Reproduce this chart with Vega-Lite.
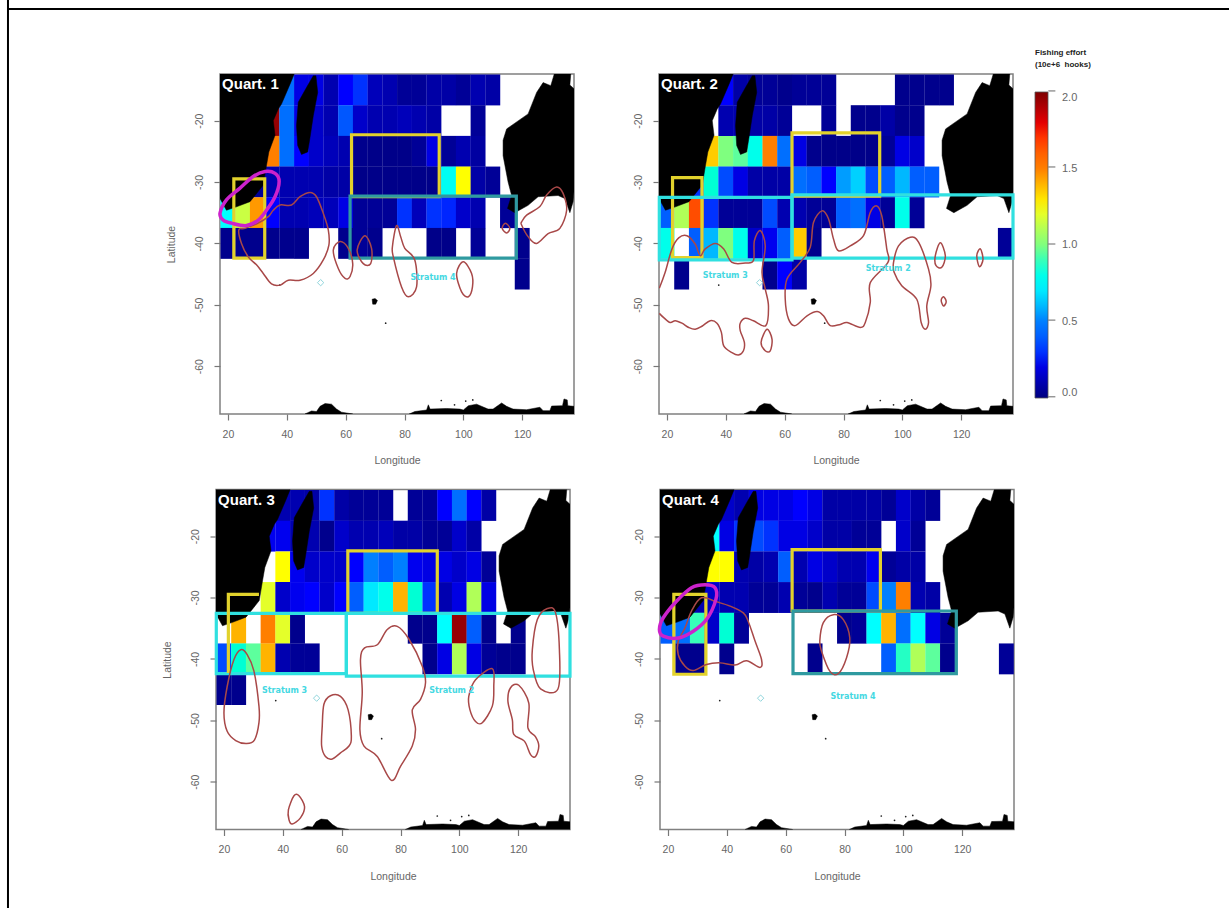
{"$schema":"https://vega.github.io/schema/vega-lite/v6.json","autosize":{"type":"none"},"padding":{"left":216,"top":74,"right":1013,"bottom":834},"background":"white","config":{"view":{"stroke":"#808080","strokeWidth":1.5},"font":"Liberation Sans"},
"datasets":{
"cells":[
{"q":"Q1","lon":40,"lat":-15,"v":0.45},{"q":"Q1","lon":45,"lat":-15,"v":0.2},{"q":"Q1","lon":50,"lat":-15,"v":0.2},{"q":"Q1","lon":55,"lat":-15,"v":0.1},{"q":"Q1","lon":60,"lat":-15,"v":0.25},{"q":"Q1","lon":65,"lat":-15,"v":0.3},{"q":"Q1","lon":70,"lat":-15,"v":0.12},{"q":"Q1","lon":75,"lat":-15,"v":0.1},{"q":"Q1","lon":80,"lat":-15,"v":0.05},{"q":"Q1","lon":85,"lat":-15,"v":0.05},{"q":"Q1","lon":90,"lat":-15,"v":0.08},{"q":"Q1","lon":95,"lat":-15,"v":0.08},{"q":"Q1","lon":100,"lat":-15,"v":0.05},{"q":"Q1","lon":105,"lat":-15,"v":0.1},{"q":"Q1","lon":110,"lat":-15,"v":0.08},
{"q":"Q1","lon":35,"lat":-20,"v":1.95},{"q":"Q1","lon":40,"lat":-20,"v":0.45},{"q":"Q1","lon":45,"lat":-20,"v":0.2},{"q":"Q1","lon":50,"lat":-20,"v":0.15},{"q":"Q1","lon":55,"lat":-20,"v":0.1},{"q":"Q1","lon":60,"lat":-20,"v":0.38},{"q":"Q1","lon":65,"lat":-20,"v":0.15},{"q":"Q1","lon":70,"lat":-20,"v":0.1},{"q":"Q1","lon":75,"lat":-20,"v":0.1},{"q":"Q1","lon":80,"lat":-20,"v":0.12},{"q":"Q1","lon":85,"lat":-20,"v":0.1},{"q":"Q1","lon":90,"lat":-20,"v":0.08},{"q":"Q1","lon":105,"lat":-20,"v":0.05},
{"q":"Q1","lon":35,"lat":-25,"v":1.5},{"q":"Q1","lon":40,"lat":-25,"v":0.45},{"q":"Q1","lon":45,"lat":-25,"v":0.25},{"q":"Q1","lon":50,"lat":-25,"v":0.15},{"q":"Q1","lon":55,"lat":-25,"v":0.12},{"q":"Q1","lon":60,"lat":-25,"v":0.1},{"q":"Q1","lon":65,"lat":-25,"v":0.03},{"q":"Q1","lon":70,"lat":-25,"v":0.02},{"q":"Q1","lon":75,"lat":-25,"v":0.02},{"q":"Q1","lon":80,"lat":-25,"v":0.02},{"q":"Q1","lon":85,"lat":-25,"v":0.05},{"q":"Q1","lon":90,"lat":-25,"v":0.2},{"q":"Q1","lon":95,"lat":-25,"v":0.05},{"q":"Q1","lon":100,"lat":-25,"v":0.1},{"q":"Q1","lon":105,"lat":-25,"v":0.07},
{"q":"Q1","lon":30,"lat":-30,"v":0.05},{"q":"Q1","lon":35,"lat":-30,"v":0.1},{"q":"Q1","lon":40,"lat":-30,"v":0.1},{"q":"Q1","lon":45,"lat":-30,"v":0.1},{"q":"Q1","lon":50,"lat":-30,"v":0.1},{"q":"Q1","lon":55,"lat":-30,"v":0.08},{"q":"Q1","lon":60,"lat":-30,"v":0.08},{"q":"Q1","lon":65,"lat":-30,"v":0.02},{"q":"Q1","lon":70,"lat":-30,"v":0.02},{"q":"Q1","lon":75,"lat":-30,"v":0.02},{"q":"Q1","lon":80,"lat":-30,"v":0.02},{"q":"Q1","lon":85,"lat":-30,"v":0.02},{"q":"Q1","lon":90,"lat":-30,"v":0.02},{"q":"Q1","lon":95,"lat":-30,"v":0.78},{"q":"Q1","lon":100,"lat":-30,"v":1.25},{"q":"Q1","lon":105,"lat":-30,"v":0.08},{"q":"Q1","lon":110,"lat":-30,"v":0.05},
{"q":"Q1","lon":20,"lat":-35,"v":0.75},{"q":"Q1","lon":25,"lat":-35,"v":1.15},{"q":"Q1","lon":30,"lat":-35,"v":1.45},{"q":"Q1","lon":35,"lat":-35,"v":0.25},{"q":"Q1","lon":40,"lat":-35,"v":0.1},{"q":"Q1","lon":45,"lat":-35,"v":0.1},{"q":"Q1","lon":50,"lat":-35,"v":0.12},{"q":"Q1","lon":55,"lat":-35,"v":0.12},{"q":"Q1","lon":60,"lat":-35,"v":0.2},{"q":"Q1","lon":65,"lat":-35,"v":0.05},{"q":"Q1","lon":70,"lat":-35,"v":0.05},{"q":"Q1","lon":75,"lat":-35,"v":0.05},{"q":"Q1","lon":80,"lat":-35,"v":0.3},{"q":"Q1","lon":85,"lat":-35,"v":0.12},{"q":"Q1","lon":90,"lat":-35,"v":0.3},{"q":"Q1","lon":95,"lat":-35,"v":0.28},{"q":"Q1","lon":100,"lat":-35,"v":0.15},{"q":"Q1","lon":105,"lat":-35,"v":0.1},{"q":"Q1","lon":115,"lat":-35,"v":0.05},
{"q":"Q1","lon":20,"lat":-40,"v":0.03},{"q":"Q1","lon":25,"lat":-40,"v":0.03},{"q":"Q1","lon":30,"lat":-40,"v":0.03},{"q":"Q1","lon":35,"lat":-40,"v":0.03},{"q":"Q1","lon":40,"lat":-40,"v":0.03},{"q":"Q1","lon":45,"lat":-40,"v":0.03},{"q":"Q1","lon":60,"lat":-40,"v":0.03},{"q":"Q1","lon":65,"lat":-40,"v":0.05},{"q":"Q1","lon":70,"lat":-40,"v":0.03},{"q":"Q1","lon":90,"lat":-40,"v":0.02},{"q":"Q1","lon":95,"lat":-40,"v":0.02},{"q":"Q1","lon":105,"lat":-40,"v":0.05},{"q":"Q1","lon":120,"lat":-40,"v":0.03},{"q":"Q1","lon":120,"lat":-45,"v":0.03},
{"q":"Q2","lon":40,"lat":-15,"v":0.25},{"q":"Q2","lon":45,"lat":-15,"v":0.08},{"q":"Q2","lon":50,"lat":-15,"v":0.05},{"q":"Q2","lon":55,"lat":-15,"v":0.05},{"q":"Q2","lon":60,"lat":-15,"v":0.03},{"q":"Q2","lon":65,"lat":-15,"v":0.05},{"q":"Q2","lon":70,"lat":-15,"v":0.05},{"q":"Q2","lon":75,"lat":-15,"v":0.05},{"q":"Q2","lon":100,"lat":-15,"v":0.03},{"q":"Q2","lon":105,"lat":-15,"v":0.03},{"q":"Q2","lon":110,"lat":-15,"v":0.03},{"q":"Q2","lon":115,"lat":-15,"v":0.03},
{"q":"Q2","lon":40,"lat":-20,"v":0.1},{"q":"Q2","lon":45,"lat":-20,"v":0.1},{"q":"Q2","lon":50,"lat":-20,"v":0.08},{"q":"Q2","lon":55,"lat":-20,"v":0.08},{"q":"Q2","lon":60,"lat":-20,"v":0.05},{"q":"Q2","lon":75,"lat":-20,"v":0.05},{"q":"Q2","lon":85,"lat":-20,"v":0.03},{"q":"Q2","lon":90,"lat":-20,"v":0.03},{"q":"Q2","lon":95,"lat":-20,"v":0.08},{"q":"Q2","lon":100,"lat":-20,"v":0.03},{"q":"Q2","lon":105,"lat":-20,"v":0.03},
{"q":"Q2","lon":35,"lat":-25,"v":1.35},{"q":"Q2","lon":40,"lat":-25,"v":1.0},{"q":"Q2","lon":45,"lat":-25,"v":0.95},{"q":"Q2","lon":50,"lat":-25,"v":0.8},{"q":"Q2","lon":55,"lat":-25,"v":1.5},{"q":"Q2","lon":60,"lat":-25,"v":0.45},{"q":"Q2","lon":65,"lat":-25,"v":0.2},{"q":"Q2","lon":70,"lat":-25,"v":0.03},{"q":"Q2","lon":75,"lat":-25,"v":0.02},{"q":"Q2","lon":80,"lat":-25,"v":0.02},{"q":"Q2","lon":85,"lat":-25,"v":0.02},{"q":"Q2","lon":90,"lat":-25,"v":0.02},{"q":"Q2","lon":95,"lat":-25,"v":0.05},{"q":"Q2","lon":100,"lat":-25,"v":0.2},{"q":"Q2","lon":105,"lat":-25,"v":0.15},
{"q":"Q2","lon":30,"lat":-30,"v":0.3},{"q":"Q2","lon":35,"lat":-30,"v":0.85},{"q":"Q2","lon":40,"lat":-30,"v":0.35},{"q":"Q2","lon":45,"lat":-30,"v":0.2},{"q":"Q2","lon":50,"lat":-30,"v":0.08},{"q":"Q2","lon":55,"lat":-30,"v":0.08},{"q":"Q2","lon":60,"lat":-30,"v":0.08},{"q":"Q2","lon":65,"lat":-30,"v":0.45},{"q":"Q2","lon":70,"lat":-30,"v":0.4},{"q":"Q2","lon":75,"lat":-30,"v":0.25},{"q":"Q2","lon":80,"lat":-30,"v":0.55},{"q":"Q2","lon":85,"lat":-30,"v":0.65},{"q":"Q2","lon":90,"lat":-30,"v":0.35},{"q":"Q2","lon":95,"lat":-30,"v":0.4},{"q":"Q2","lon":100,"lat":-30,"v":0.6},{"q":"Q2","lon":105,"lat":-30,"v":0.4},{"q":"Q2","lon":110,"lat":-30,"v":0.4},
{"q":"Q2","lon":20,"lat":-35,"v":0.4},{"q":"Q2","lon":25,"lat":-35,"v":1.1},{"q":"Q2","lon":30,"lat":-35,"v":1.65},{"q":"Q2","lon":35,"lat":-35,"v":0.3},{"q":"Q2","lon":40,"lat":-35,"v":0.05},{"q":"Q2","lon":45,"lat":-35,"v":0.05},{"q":"Q2","lon":50,"lat":-35,"v":0.05},{"q":"Q2","lon":55,"lat":-35,"v":0.35},{"q":"Q2","lon":60,"lat":-35,"v":0.1},{"q":"Q2","lon":65,"lat":-35,"v":0.1},{"q":"Q2","lon":70,"lat":-35,"v":0.05},{"q":"Q2","lon":75,"lat":-35,"v":0.05},{"q":"Q2","lon":80,"lat":-35,"v":0.4},{"q":"Q2","lon":85,"lat":-35,"v":0.45},{"q":"Q2","lon":90,"lat":-35,"v":0.2},{"q":"Q2","lon":95,"lat":-35,"v":0.05},{"q":"Q2","lon":100,"lat":-35,"v":0.8},{"q":"Q2","lon":105,"lat":-35,"v":0.05},
{"q":"Q2","lon":20,"lat":-40,"v":0.8},{"q":"Q2","lon":30,"lat":-40,"v":0.4},{"q":"Q2","lon":35,"lat":-40,"v":0.6},{"q":"Q2","lon":40,"lat":-40,"v":1.0},{"q":"Q2","lon":45,"lat":-40,"v":0.8},{"q":"Q2","lon":50,"lat":-40,"v":0.15},{"q":"Q2","lon":55,"lat":-40,"v":0.22},{"q":"Q2","lon":60,"lat":-40,"v":0.4},{"q":"Q2","lon":65,"lat":-40,"v":1.35},{"q":"Q2","lon":70,"lat":-40,"v":0.03},{"q":"Q2","lon":135,"lat":-40,"v":0.05},
{"q":"Q2","lon":25,"lat":-45,"v":0.03},{"q":"Q2","lon":55,"lat":-45,"v":0.03},{"q":"Q2","lon":60,"lat":-45,"v":0.25},{"q":"Q2","lon":65,"lat":-45,"v":0.08},
{"q":"Q3","lon":40,"lat":-15,"v":0.1},{"q":"Q3","lon":45,"lat":-15,"v":0.1},{"q":"Q3","lon":50,"lat":-15,"v":0.08},{"q":"Q3","lon":55,"lat":-15,"v":0.3},{"q":"Q3","lon":60,"lat":-15,"v":0.08},{"q":"Q3","lon":65,"lat":-15,"v":0.05},{"q":"Q3","lon":70,"lat":-15,"v":0.05},{"q":"Q3","lon":75,"lat":-15,"v":0.05},{"q":"Q3","lon":85,"lat":-15,"v":0.05},{"q":"Q3","lon":90,"lat":-15,"v":0.05},{"q":"Q3","lon":95,"lat":-15,"v":0.25},{"q":"Q3","lon":100,"lat":-15,"v":0.45},{"q":"Q3","lon":105,"lat":-15,"v":0.25},{"q":"Q3","lon":110,"lat":-15,"v":0.08},
{"q":"Q3","lon":35,"lat":-20,"v":0.22},{"q":"Q3","lon":40,"lat":-20,"v":0.22},{"q":"Q3","lon":45,"lat":-20,"v":0.1},{"q":"Q3","lon":50,"lat":-20,"v":0.1},{"q":"Q3","lon":55,"lat":-20,"v":0.03},{"q":"Q3","lon":60,"lat":-20,"v":0.15},{"q":"Q3","lon":65,"lat":-20,"v":0.1},{"q":"Q3","lon":70,"lat":-20,"v":0.1},{"q":"Q3","lon":75,"lat":-20,"v":0.12},{"q":"Q3","lon":80,"lat":-20,"v":0.08},{"q":"Q3","lon":85,"lat":-20,"v":0.08},{"q":"Q3","lon":90,"lat":-20,"v":0.05},{"q":"Q3","lon":95,"lat":-20,"v":0.05},{"q":"Q3","lon":100,"lat":-20,"v":0.15},{"q":"Q3","lon":105,"lat":-20,"v":0.08},
{"q":"Q3","lon":40,"lat":-25,"v":1.25},{"q":"Q3","lon":45,"lat":-25,"v":0.22},{"q":"Q3","lon":50,"lat":-25,"v":0.15},{"q":"Q3","lon":55,"lat":-25,"v":0.15},{"q":"Q3","lon":60,"lat":-25,"v":0.15},{"q":"Q3","lon":65,"lat":-25,"v":0.25},{"q":"Q3","lon":70,"lat":-25,"v":0.5},{"q":"Q3","lon":75,"lat":-25,"v":0.4},{"q":"Q3","lon":80,"lat":-25,"v":0.5},{"q":"Q3","lon":85,"lat":-25,"v":0.22},{"q":"Q3","lon":90,"lat":-25,"v":0.2},{"q":"Q3","lon":95,"lat":-25,"v":0.2},{"q":"Q3","lon":100,"lat":-25,"v":0.15},{"q":"Q3","lon":105,"lat":-25,"v":0.2},{"q":"Q3","lon":110,"lat":-25,"v":0.05},
{"q":"Q3","lon":35,"lat":-30,"v":1.2},{"q":"Q3","lon":40,"lat":-30,"v":0.15},{"q":"Q3","lon":45,"lat":-30,"v":0.22},{"q":"Q3","lon":50,"lat":-30,"v":0.25},{"q":"Q3","lon":55,"lat":-30,"v":0.15},{"q":"Q3","lon":60,"lat":-30,"v":0.25},{"q":"Q3","lon":65,"lat":-30,"v":0.4},{"q":"Q3","lon":70,"lat":-30,"v":0.7},{"q":"Q3","lon":75,"lat":-30,"v":0.8},{"q":"Q3","lon":80,"lat":-30,"v":1.4},{"q":"Q3","lon":85,"lat":-30,"v":0.85},{"q":"Q3","lon":90,"lat":-30,"v":0.3},{"q":"Q3","lon":95,"lat":-30,"v":0.1},{"q":"Q3","lon":100,"lat":-30,"v":0.2},{"q":"Q3","lon":105,"lat":-30,"v":1.1},{"q":"Q3","lon":110,"lat":-30,"v":0.2},
{"q":"Q3","lon":25,"lat":-35,"v":1.4},{"q":"Q3","lon":35,"lat":-35,"v":1.5},{"q":"Q3","lon":40,"lat":-35,"v":1.2},{"q":"Q3","lon":45,"lat":-35,"v":0.03},{"q":"Q3","lon":85,"lat":-35,"v":0.03},{"q":"Q3","lon":90,"lat":-35,"v":0.03},{"q":"Q3","lon":95,"lat":-35,"v":0.75},{"q":"Q3","lon":100,"lat":-35,"v":1.95},{"q":"Q3","lon":105,"lat":-35,"v":0.4},{"q":"Q3","lon":110,"lat":-35,"v":0.03},{"q":"Q3","lon":120,"lat":-35,"v":0.03},
{"q":"Q3","lon":20,"lat":-40,"v":0.35},{"q":"Q3","lon":25,"lat":-40,"v":0.85},{"q":"Q3","lon":30,"lat":-40,"v":0.95},{"q":"Q3","lon":35,"lat":-40,"v":1.4},{"q":"Q3","lon":40,"lat":-40,"v":0.1},{"q":"Q3","lon":45,"lat":-40,"v":0.05},{"q":"Q3","lon":50,"lat":-40,"v":0.05},{"q":"Q3","lon":90,"lat":-40,"v":0.03},{"q":"Q3","lon":95,"lat":-40,"v":0.2},{"q":"Q3","lon":100,"lat":-40,"v":1.1},{"q":"Q3","lon":105,"lat":-40,"v":0.2},{"q":"Q3","lon":110,"lat":-40,"v":0.05},{"q":"Q3","lon":115,"lat":-40,"v":0.03},{"q":"Q3","lon":120,"lat":-40,"v":0.03},
{"q":"Q3","lon":20,"lat":-45,"v":0.03},{"q":"Q3","lon":25,"lat":-45,"v":0.03},
{"q":"Q4","lon":40,"lat":-15,"v":0.15},{"q":"Q4","lon":45,"lat":-15,"v":0.1},{"q":"Q4","lon":50,"lat":-15,"v":0.2},{"q":"Q4","lon":55,"lat":-15,"v":0.2},{"q":"Q4","lon":60,"lat":-15,"v":0.2},{"q":"Q4","lon":65,"lat":-15,"v":0.25},{"q":"Q4","lon":70,"lat":-15,"v":0.2},{"q":"Q4","lon":75,"lat":-15,"v":0.08},{"q":"Q4","lon":80,"lat":-15,"v":0.08},{"q":"Q4","lon":85,"lat":-15,"v":0.08},{"q":"Q4","lon":90,"lat":-15,"v":0.08},{"q":"Q4","lon":95,"lat":-15,"v":0.05},{"q":"Q4","lon":100,"lat":-15,"v":0.15},{"q":"Q4","lon":105,"lat":-15,"v":0.08},{"q":"Q4","lon":110,"lat":-15,"v":0.05},
{"q":"Q4","lon":35,"lat":-20,"v":0.75},{"q":"Q4","lon":40,"lat":-20,"v":0.2},{"q":"Q4","lon":45,"lat":-20,"v":0.3},{"q":"Q4","lon":50,"lat":-20,"v":0.35},{"q":"Q4","lon":55,"lat":-20,"v":0.3},{"q":"Q4","lon":60,"lat":-20,"v":0.2},{"q":"Q4","lon":65,"lat":-20,"v":0.2},{"q":"Q4","lon":70,"lat":-20,"v":0.15},{"q":"Q4","lon":75,"lat":-20,"v":0.08},{"q":"Q4","lon":80,"lat":-20,"v":0.08},{"q":"Q4","lon":85,"lat":-20,"v":0.05},{"q":"Q4","lon":90,"lat":-20,"v":0.05},{"q":"Q4","lon":100,"lat":-20,"v":0.15},{"q":"Q4","lon":105,"lat":-20,"v":0.05},
{"q":"Q4","lon":35,"lat":-25,"v":1.25},{"q":"Q4","lon":40,"lat":-25,"v":1.25},{"q":"Q4","lon":45,"lat":-25,"v":0.1},{"q":"Q4","lon":50,"lat":-25,"v":0.08},{"q":"Q4","lon":55,"lat":-25,"v":0.1},{"q":"Q4","lon":60,"lat":-25,"v":0.4},{"q":"Q4","lon":65,"lat":-25,"v":0.1},{"q":"Q4","lon":70,"lat":-25,"v":0.2},{"q":"Q4","lon":75,"lat":-25,"v":0.15},{"q":"Q4","lon":80,"lat":-25,"v":0.1},{"q":"Q4","lon":85,"lat":-25,"v":0.1},{"q":"Q4","lon":90,"lat":-25,"v":0.22},{"q":"Q4","lon":95,"lat":-25,"v":0.05},{"q":"Q4","lon":100,"lat":-25,"v":0.08},{"q":"Q4","lon":105,"lat":-25,"v":0.08},
{"q":"Q4","lon":30,"lat":-30,"v":0.1},{"q":"Q4","lon":35,"lat":-30,"v":0.15},{"q":"Q4","lon":40,"lat":-30,"v":0.1},{"q":"Q4","lon":45,"lat":-30,"v":0.1},{"q":"Q4","lon":50,"lat":-30,"v":0.05},{"q":"Q4","lon":55,"lat":-30,"v":0.05},{"q":"Q4","lon":60,"lat":-30,"v":0.1},{"q":"Q4","lon":65,"lat":-30,"v":0.05},{"q":"Q4","lon":70,"lat":-30,"v":0.03},{"q":"Q4","lon":75,"lat":-30,"v":0.1},{"q":"Q4","lon":80,"lat":-30,"v":0.05},{"q":"Q4","lon":85,"lat":-30,"v":0.05},{"q":"Q4","lon":90,"lat":-30,"v":0.35},{"q":"Q4","lon":95,"lat":-30,"v":0.5},{"q":"Q4","lon":100,"lat":-30,"v":1.5},{"q":"Q4","lon":105,"lat":-30,"v":0.1},{"q":"Q4","lon":110,"lat":-30,"v":0.08},
{"q":"Q4","lon":20,"lat":-35,"v":0.4},{"q":"Q4","lon":25,"lat":-35,"v":0.45},{"q":"Q4","lon":30,"lat":-35,"v":0.9},{"q":"Q4","lon":35,"lat":-35,"v":0.15},{"q":"Q4","lon":40,"lat":-35,"v":0.85},{"q":"Q4","lon":45,"lat":-35,"v":0.05},{"q":"Q4","lon":80,"lat":-35,"v":0.03},{"q":"Q4","lon":85,"lat":-35,"v":0.05},{"q":"Q4","lon":90,"lat":-35,"v":0.75},{"q":"Q4","lon":95,"lat":-35,"v":1.4},{"q":"Q4","lon":100,"lat":-35,"v":0.45},{"q":"Q4","lon":105,"lat":-35,"v":0.75},{"q":"Q4","lon":110,"lat":-35,"v":0.2},{"q":"Q4","lon":115,"lat":-35,"v":0.05},
{"q":"Q4","lon":25,"lat":-40,"v":0.03},{"q":"Q4","lon":30,"lat":-40,"v":0.03},{"q":"Q4","lon":40,"lat":-40,"v":0.03},{"q":"Q4","lon":70,"lat":-40,"v":0.03},{"q":"Q4","lon":95,"lat":-40,"v":0.4},{"q":"Q4","lon":100,"lat":-40,"v":0.88},{"q":"Q4","lon":105,"lat":-40,"v":1.1},{"q":"Q4","lon":110,"lat":-40,"v":0.95},{"q":"Q4","lon":115,"lat":-40,"v":0.03},{"q":"Q4","lon":135,"lat":-40,"v":0.05}
],
"land":[
{"id":"af","lon":42.5,"lat":-12.4},{"id":"af","lon":41.1,"lat":-14.05},{"id":"af","lon":38.2,"lat":-17.3},{"id":"af","lon":37.1,"lat":-18.1},{"id":"af","lon":35.4,"lat":-20},{"id":"af","lon":36,"lat":-22.4},{"id":"af","lon":33.9,"lat":-25.1},{"id":"af","lon":33.1,"lat":-27.3},{"id":"af","lon":32,"lat":-30.5},{"id":"af","lon":27.5,"lat":-33.2},{"id":"af","lon":22.9,"lat":-34.05},{"id":"af","lon":19.5,"lat":-34.6},{"id":"af","lon":17.3,"lat":-32.7},{"id":"af","lon":17.3,"lat":-12.4},
{"id":"ma","lon":49.9,"lat":-12.7},{"id":"ma","lon":50.5,"lat":-15.4},{"id":"ma","lon":49,"lat":-19.2},{"id":"ma","lon":47.9,"lat":-22.7},{"id":"ma","lon":47.1,"lat":-25.1},{"id":"ma","lon":45,"lat":-25.5},{"id":"ma","lon":43.7,"lat":-24.05},{"id":"ma","lon":43.3,"lat":-20.8},{"id":"ma","lon":43.9,"lat":-17},{"id":"ma","lon":46.7,"lat":-14.6},{"id":"ma","lon":49,"lat":-12.7},
{"id":"au","lon":130.9,"lat":-12.4},{"id":"au","lon":129.7,"lat":-14.3},{"id":"au","lon":127.1,"lat":-13.8},{"id":"au","lon":124.9,"lat":-15.4},{"id":"au","lon":122,"lat":-18.9},{"id":"au","lon":114.7,"lat":-21.35},{"id":"au","lon":113.5,"lat":-23.2},{"id":"au","lon":113.5,"lat":-25.7},{"id":"au","lon":115.2,"lat":-30},{"id":"au","lon":116.4,"lat":-32.2},{"id":"au","lon":115,"lat":-34.3},{"id":"au","lon":117.5,"lat":-35},{"id":"au","lon":122,"lat":-33.8},{"id":"au","lon":125.4,"lat":-32.4},{"id":"au","lon":132.2,"lat":-32.2},{"id":"au","lon":134.5,"lat":-32.7},{"id":"au","lon":136.2,"lat":-35},{"id":"au","lon":137.3,"lat":-33.2},{"id":"au","lon":137.6,"lat":-31.6},{"id":"au","lon":137.6,"lat":-14.8},{"id":"au","lon":136.2,"lat":-14.2},{"id":"au","lon":136.5,"lat":-12.4},
{"id":"an1","lon":46.2,"lat":-67.8},{"id":"an1","lon":48.4,"lat":-67.3},{"id":"an1","lon":50.1,"lat":-67.4},{"id":"an1","lon":51.3,"lat":-66.55},{"id":"an1","lon":53,"lat":-66.1},{"id":"an1","lon":55.2,"lat":-66.2},{"id":"an1","lon":56.9,"lat":-67},{"id":"an1","lon":58.6,"lat":-67.5},{"id":"an1","lon":62.4,"lat":-67.8},
{"id":"an2","lon":81.6,"lat":-67.8},{"id":"an2","lon":83.5,"lat":-67.4},{"id":"an2","lon":87.5,"lat":-67.15},{"id":"an2","lon":88.1,"lat":-66.3},{"id":"an2","lon":88.7,"lat":-67},{"id":"an2","lon":94.3,"lat":-66.9},{"id":"an2","lon":98.8,"lat":-67},{"id":"an2","lon":100,"lat":-67.15},{"id":"an2","lon":101.7,"lat":-66.45},{"id":"an2","lon":104.5,"lat":-66.2},{"id":"an2","lon":108.4,"lat":-67},{"id":"an2","lon":110.1,"lat":-67},{"id":"an2","lon":113,"lat":-66},{"id":"an2","lon":114.7,"lat":-66.55},{"id":"an2","lon":116.9,"lat":-67},{"id":"an2","lon":121.5,"lat":-67.1},{"id":"an2","lon":126,"lat":-66.7},{"id":"an2","lon":127.1,"lat":-67.25},{"id":"an2","lon":129.4,"lat":-67.25},{"id":"an2","lon":130,"lat":-66.5},{"id":"an2","lon":133.7,"lat":-66.45},{"id":"an2","lon":134.2,"lat":-65.35},{"id":"an2","lon":135.3,"lat":-65.5},{"id":"an2","lon":135.5,"lat":-66.45},{"id":"an2","lon":137.6,"lat":-66.55},{"id":"an2","lon":137.6,"lat":-67.8},
{"id":"ke","lon":69,"lat":-49.1},{"id":"ke","lon":70,"lat":-49},{"id":"ke","lon":70.8,"lat":-49.3},{"id":"ke","lon":70.2,"lat":-49.9},{"id":"ke","lon":69.2,"lat":-49.9}
],
"dots":[{"lon":73.6,"lat":-53},{"lon":37.6,"lat":-46.8},{"lon":92.5,"lat":-65.6},{"lon":97,"lat":-66.3},{"lon":100.8,"lat":-65.7},{"lon":103.2,"lat":-65.5}],
"crozet":[{"lon":51.5,"lat":-46.4}],
"contours":[
{"q":"Q1","id":"1","lon":23.7,"lat":-37.8},{"q":"Q1","id":"1","lon":24.6,"lat":-40},{"q":"Q1","id":"1","lon":26.9,"lat":-42.2},{"q":"Q1","id":"1","lon":29.7,"lat":-43.5},{"q":"Q1","id":"1","lon":32,"lat":-44.9},{"q":"Q1","id":"1","lon":34.8,"lat":-46.6},{"q":"Q1","id":"1","lon":37.7,"lat":-46.8},{"q":"Q1","id":"1","lon":40.5,"lat":-46},{"q":"Q1","id":"1","lon":44.5,"lat":-46},{"q":"Q1","id":"1","lon":49,"lat":-44.9},{"q":"Q1","id":"1","lon":52.4,"lat":-42.7},{"q":"Q1","id":"1","lon":54.3,"lat":-40.3},{"q":"Q1","id":"1","lon":54.1,"lat":-37.8},{"q":"Q1","id":"1","lon":52.4,"lat":-35.1},{"q":"Q1","id":"1","lon":50.1,"lat":-32.4},{"q":"Q1","id":"1","lon":47.9,"lat":-31.7},{"q":"Q1","id":"1","lon":44.5,"lat":-32.4},{"q":"Q1","id":"1","lon":41.6,"lat":-33.75},{"q":"Q1","id":"1","lon":37.7,"lat":-33.75},{"q":"Q1","id":"1","lon":35.4,"lat":-34.6},{"q":"Q1","id":"1","lon":33.7,"lat":-35.65},{"q":"Q1","id":"1","lon":30.3,"lat":-36.7},{"q":"Q1","id":"1","lon":25.8,"lat":-37.55},
{"q":"Q1","id":"2","lon":55.8,"lat":-41.1},{"q":"Q1","id":"2","lon":58.1,"lat":-39.7},{"q":"Q1","id":"2","lon":60.9,"lat":-40.8},{"q":"Q1","id":"2","lon":62.4,"lat":-43.3},{"q":"Q1","id":"2","lon":61.5,"lat":-45.4},{"q":"Q1","id":"2","lon":59.8,"lat":-45.7},{"q":"Q1","id":"2","lon":57.5,"lat":-44.1},
{"q":"Q1","id":"3","lon":63.9,"lat":-41.1},{"q":"Q1","id":"3","lon":66.5,"lat":-38.75},{"q":"Q1","id":"3","lon":68.8,"lat":-40.8},{"q":"Q1","id":"3","lon":68.5,"lat":-43.3},{"q":"Q1","id":"3","lon":66,"lat":-43.3},
{"q":"Q1","id":"4","lon":77.3,"lat":-37.1},{"q":"Q1","id":"4","lon":75.9,"lat":-40.5},{"q":"Q1","id":"4","lon":76.2,"lat":-42.2},{"q":"Q1","id":"4","lon":79,"lat":-47.1},{"q":"Q1","id":"4","lon":81.3,"lat":-48.7},{"q":"Q1","id":"4","lon":84.1,"lat":-47.1},{"q":"Q1","id":"4","lon":83.5,"lat":-42.7},{"q":"Q1","id":"4","lon":80.1,"lat":-40.8},{"q":"Q1","id":"4","lon":78.7,"lat":-38.9},
{"q":"Q1","id":"5","lon":97.7,"lat":-44.9},{"q":"Q1","id":"5","lon":100,"lat":-43},{"q":"Q1","id":"5","lon":102.8,"lat":-44.9},{"q":"Q1","id":"5","lon":103.1,"lat":-47.1},{"q":"Q1","id":"5","lon":101.7,"lat":-48.7},{"q":"Q1","id":"5","lon":99.4,"lat":-47.9},
{"q":"Q1","id":"6","lon":113.2,"lat":-37.55},{"q":"Q1","id":"6","lon":114.3,"lat":-36.7},{"q":"Q1","id":"6","lon":115.8,"lat":-37.55},{"q":"Q1","id":"6","lon":114.7,"lat":-38.3},
{"q":"Q1","id":"7","lon":119.8,"lat":-36.5},{"q":"Q1","id":"7","lon":121.5,"lat":-35.4},{"q":"Q1","id":"7","lon":126,"lat":-34},{"q":"Q1","id":"7","lon":128.3,"lat":-32.1},{"q":"Q1","id":"7","lon":131.7,"lat":-30.8},{"q":"Q1","id":"7","lon":133.9,"lat":-31.85},{"q":"Q1","id":"7","lon":135.1,"lat":-34.6},{"q":"Q1","id":"7","lon":132.8,"lat":-37.55},{"q":"Q1","id":"7","lon":128.8,"lat":-38.4},{"q":"Q1","id":"7","lon":124.9,"lat":-40},{"q":"Q1","id":"7","lon":122,"lat":-38.9},{"q":"Q1","id":"7","lon":119.8,"lat":-37},
{"q":"Q2","id":"1","lon":54,"lat":-54},{"q":"Q2","id":"1","lon":55.7,"lat":-55.6},{"q":"Q2","id":"1","lon":55.1,"lat":-57.5},{"q":"Q2","id":"1","lon":53.4,"lat":-57.5},{"q":"Q2","id":"1","lon":52,"lat":-56.1},
{"q":"Q2","id":"2","lon":68.7,"lat":-40.65},{"q":"Q2","id":"2","lon":69.8,"lat":-36.6},{"q":"Q2","id":"2","lon":72.7,"lat":-34.7},{"q":"Q2","id":"2","lon":74.9,"lat":-36},{"q":"Q2","id":"2","lon":76.6,"lat":-39.3},{"q":"Q2","id":"2","lon":78.3,"lat":-41.2},{"q":"Q2","id":"2","lon":82.3,"lat":-40.4},{"q":"Q2","id":"2","lon":86.8,"lat":-38.75},{"q":"Q2","id":"2","lon":89.1,"lat":-34.95},{"q":"Q2","id":"2","lon":91.3,"lat":-33.9},{"q":"Q2","id":"2","lon":93,"lat":-35.5},{"q":"Q2","id":"2","lon":94.7,"lat":-40.9},{"q":"Q2","id":"2","lon":95.1,"lat":-43.1},{"q":"Q2","id":"2","lon":89.1,"lat":-46.4},{"q":"Q2","id":"2","lon":89.1,"lat":-49.6},{"q":"Q2","id":"2","lon":87.4,"lat":-52.9},{"q":"Q2","id":"2","lon":85.7,"lat":-53.7},{"q":"Q2","id":"2","lon":81.2,"lat":-52.9},{"q":"Q2","id":"2","lon":78.9,"lat":-53.2},{"q":"Q2","id":"2","lon":75.5,"lat":-53.4},{"q":"Q2","id":"2","lon":73.2,"lat":-51.8},{"q":"Q2","id":"2","lon":71,"lat":-51.1},{"q":"Q2","id":"2","lon":67.6,"lat":-51.8},{"q":"Q2","id":"2","lon":63.6,"lat":-53.4},{"q":"Q2","id":"2","lon":61.3,"lat":-52.3},{"q":"Q2","id":"2","lon":60.2,"lat":-49.1},{"q":"Q2","id":"2","lon":60.8,"lat":-45.8},{"q":"Q2","id":"2","lon":65.3,"lat":-43.1},
{"q":"Q2","id":"3","lon":97,"lat":-43.1},{"q":"Q2","id":"3","lon":98.7,"lat":-40.4},{"q":"Q2","id":"3","lon":102.7,"lat":-39},{"q":"Q2","id":"3","lon":105.5,"lat":-39.8},{"q":"Q2","id":"3","lon":108.9,"lat":-44.2},{"q":"Q2","id":"3","lon":109.7,"lat":-46.9},{"q":"Q2","id":"3","lon":108.3,"lat":-50.2},{"q":"Q2","id":"3","lon":108.9,"lat":-52.9},{"q":"Q2","id":"3","lon":107.8,"lat":-54},{"q":"Q2","id":"3","lon":106.4,"lat":-52.9},{"q":"Q2","id":"3","lon":104.9,"lat":-49.1},{"q":"Q2","id":"3","lon":99.8,"lat":-46.9},{"q":"Q2","id":"3","lon":97.2,"lat":-44.7},
{"q":"Q2","id":"4","lon":111.2,"lat":-42},{"q":"Q2","id":"4","lon":112.9,"lat":-39.9},{"q":"Q2","id":"4","lon":114.6,"lat":-42},{"q":"Q2","id":"4","lon":113.4,"lat":-43.9},{"q":"Q2","id":"4","lon":111.4,"lat":-43.6},
{"q":"Q2","id":"5","lon":125.3,"lat":-42},{"q":"Q2","id":"5","lon":126.5,"lat":-40.9},{"q":"Q2","id":"5","lon":127.4,"lat":-42.6},{"q":"Q2","id":"5","lon":126.2,"lat":-43.8},
{"q":"Q2","id":"6","lon":113.2,"lat":-49.3},{"q":"Q2","id":"6","lon":114,"lat":-48.7},{"q":"Q2","id":"6","lon":114.9,"lat":-49.5},{"q":"Q2","id":"6","lon":114,"lat":-50.2},
{"q":"Q3","id":"1","lon":20,"lat":-48.8},{"q":"Q3","id":"1","lon":21.1,"lat":-44.5},{"q":"Q3","id":"1","lon":23.4,"lat":-40.1},{"q":"Q3","id":"1","lon":25.7,"lat":-38.5},{"q":"Q3","id":"1","lon":27.9,"lat":-39.3},{"q":"Q3","id":"1","lon":30.2,"lat":-42},{"q":"Q3","id":"1","lon":31.9,"lat":-47.7},{"q":"Q3","id":"1","lon":31.9,"lat":-50.4},{"q":"Q3","id":"1","lon":30.4,"lat":-53.2},{"q":"Q3","id":"1","lon":27.7,"lat":-53.8},{"q":"Q3","id":"1","lon":24,"lat":-53.3},{"q":"Q3","id":"1","lon":21.1,"lat":-51.8},
{"q":"Q3","id":"2","lon":41.9,"lat":-64.6},{"q":"Q3","id":"2","lon":43.8,"lat":-62.3},{"q":"Q3","id":"2","lon":45.5,"lat":-62.3},{"q":"Q3","id":"2","lon":47.4,"lat":-64.1},{"q":"Q3","id":"2","lon":46,"lat":-65.9},{"q":"Q3","id":"2","lon":43.2,"lat":-66.9},{"q":"Q3","id":"2","lon":42.1,"lat":-66.2},
{"q":"Q3","id":"3","lon":53.4,"lat":-51},{"q":"Q3","id":"3","lon":53.97,"lat":-47.4},{"q":"Q3","id":"3","lon":56.2,"lat":-46},{"q":"Q3","id":"3","lon":59.6,"lat":-46.1},{"q":"Q3","id":"3","lon":62.2,"lat":-48.3},{"q":"Q3","id":"3","lon":63.3,"lat":-52.6},{"q":"Q3","id":"3","lon":62.5,"lat":-54.2},{"q":"Q3","id":"3","lon":59.6,"lat":-55.3},{"q":"Q3","id":"3","lon":56.8,"lat":-56.3},{"q":"Q3","id":"3","lon":54.5,"lat":-55.9},{"q":"Q3","id":"3","lon":53.2,"lat":-54.2},
{"q":"Q3","id":"4","lon":66.4,"lat":-40.1},{"q":"Q3","id":"4","lon":67.8,"lat":-38.2},{"q":"Q3","id":"4","lon":72.1,"lat":-37.7},{"q":"Q3","id":"4","lon":75.5,"lat":-35.2},{"q":"Q3","id":"4","lon":78.9,"lat":-34.7},{"q":"Q3","id":"4","lon":82.9,"lat":-36.8},{"q":"Q3","id":"4","lon":87.4,"lat":-41.2},{"q":"Q3","id":"4","lon":88.5,"lat":-43.9},{"q":"Q3","id":"4","lon":86.8,"lat":-46.6},{"q":"Q3","id":"4","lon":84,"lat":-48.3},{"q":"Q3","id":"4","lon":85.1,"lat":-51.5},{"q":"Q3","id":"4","lon":84,"lat":-54.2},{"q":"Q3","id":"4","lon":80,"lat":-57.5},{"q":"Q3","id":"4","lon":76.9,"lat":-59.8},{"q":"Q3","id":"4","lon":72.1,"lat":-55.9},{"q":"Q3","id":"4","lon":67.6,"lat":-54.2},{"q":"Q3","id":"4","lon":66.2,"lat":-51.5},{"q":"Q3","id":"4","lon":67,"lat":-45.5},
{"q":"Q3","id":"5","lon":103.2,"lat":-46.1},{"q":"Q3","id":"5","lon":105.5,"lat":-43.4},{"q":"Q3","id":"5","lon":111.2,"lat":-41.6},{"q":"Q3","id":"5","lon":111.7,"lat":-44.5},{"q":"Q3","id":"5","lon":111.2,"lat":-47.7},{"q":"Q3","id":"5","lon":107.8,"lat":-50.4},{"q":"Q3","id":"5","lon":105.5,"lat":-50.2},{"q":"Q3","id":"5","lon":103.6,"lat":-48.3},
{"q":"Q3","id":"6","lon":116.5,"lat":-46.9},{"q":"Q3","id":"6","lon":117.4,"lat":-44.7},{"q":"Q3","id":"6","lon":120.2,"lat":-44.3},{"q":"Q3","id":"6","lon":123.6,"lat":-47.2},{"q":"Q3","id":"6","lon":123.3,"lat":-51.25},{"q":"Q3","id":"6","lon":125.9,"lat":-52.7},{"q":"Q3","id":"6","lon":127,"lat":-54.2},{"q":"Q3","id":"6","lon":125.9,"lat":-55.9},{"q":"Q3","id":"6","lon":124.2,"lat":-55.6},{"q":"Q3","id":"6","lon":122.1,"lat":-53.4},{"q":"Q3","id":"6","lon":118.5,"lat":-52.3},{"q":"Q3","id":"6","lon":118,"lat":-49.9},
{"q":"Q3","id":"7","lon":124.8,"lat":-38.5},{"q":"Q3","id":"7","lon":126.5,"lat":-33.6},{"q":"Q3","id":"7","lon":129.9,"lat":-31.8},{"q":"Q3","id":"7","lon":132.7,"lat":-32.5},{"q":"Q3","id":"7","lon":134,"lat":-38.5},{"q":"Q3","id":"7","lon":133.5,"lat":-44.9},{"q":"Q3","id":"7","lon":127.6,"lat":-44.9},{"q":"Q3","id":"7","lon":125.1,"lat":-41.7},
{"q":"Q4","id":"1","lon":23.5,"lat":-37.1},{"q":"Q4","id":"1","lon":23.5,"lat":-39.3},{"q":"Q4","id":"1","lon":25.8,"lat":-41.2},{"q":"Q4","id":"1","lon":28.6,"lat":-41.9},{"q":"Q4","id":"1","lon":33.1,"lat":-40.9},{"q":"Q4","id":"1","lon":37.7,"lat":-40.65},{"q":"Q4","id":"1","lon":42.8,"lat":-41},{"q":"Q4","id":"1","lon":46.7,"lat":-40.3},{"q":"Q4","id":"1","lon":51.3,"lat":-41.4},{"q":"Q4","id":"1","lon":51.8,"lat":-40.1},{"q":"Q4","id":"1","lon":49.6,"lat":-37.1},{"q":"Q4","id":"1","lon":47.3,"lat":-33.9},{"q":"Q4","id":"1","lon":45.6,"lat":-32.5},{"q":"Q4","id":"1","lon":41.1,"lat":-31.4},{"q":"Q4","id":"1","lon":36.5,"lat":-30.7},{"q":"Q4","id":"1","lon":31.4,"lat":-30.05},{"q":"Q4","id":"1","lon":28,"lat":-32.2},{"q":"Q4","id":"1","lon":25.8,"lat":-34.95},
{"q":"Q4","id":"2","lon":71.6,"lat":-37.1},{"q":"Q4","id":"2","lon":72.8,"lat":-34.1},{"q":"Q4","id":"2","lon":76.2,"lat":-32.8},{"q":"Q4","id":"2","lon":79.6,"lat":-33.6},{"q":"Q4","id":"2","lon":81.8,"lat":-36.6},{"q":"Q4","id":"2","lon":80.7,"lat":-39.8},{"q":"Q4","id":"2","lon":77.9,"lat":-42.4},{"q":"Q4","id":"2","lon":75,"lat":-42},{"q":"Q4","id":"2","lon":72.2,"lat":-38.75}
],
"openContour":[
{"lon":17.4,"lat":-47.3},{"lon":19.4,"lat":-44.7},{"lon":21.7,"lat":-40.9},{"lon":24,"lat":-39.1},{"lon":26.8,"lat":-38.75},{"lon":29.6,"lat":-40.1},{"lon":31.3,"lat":-42},{"lon":33,"lat":-40.9},{"lon":36.4,"lat":-40},{"lon":39.3,"lat":-40.9},{"lon":42.1,"lat":-43.1},{"lon":46.6,"lat":-43.2},{"lon":49.4,"lat":-42.8},{"lon":49.7,"lat":-39.6},{"lon":51.7,"lat":-37.9},{"lon":53.4,"lat":-40.4},{"lon":52.3,"lat":-44.7},{"lon":53.4,"lat":-47.4},{"lon":54.5,"lat":-50.2},{"lon":53.6,"lat":-53.4},{"lon":49.4,"lat":-52.6},{"lon":46.6,"lat":-52.2},{"lon":44.9,"lat":-53},{"lon":44.9,"lat":-54.2},{"lon":46.3,"lat":-56.1},{"lon":46,"lat":-57.5},{"lon":44.3,"lat":-58.2},{"lon":42.1,"lat":-57.8},{"lon":39.3,"lat":-56.7},{"lon":38.5,"lat":-54.5},{"lon":37,"lat":-53},{"lon":34.7,"lat":-52.6},{"lon":31.9,"lat":-53.5},{"lon":29.6,"lat":-54},{"lon":27.4,"lat":-53.7},{"lon":25.1,"lat":-53},{"lon":22.8,"lat":-52.6},{"lon":21.1,"lat":-52.9},{"lon":18.9,"lat":-52.1},{"lon":17.4,"lat":-51.4}
],
"ellipses":[
{"q":"Q1","lon":17.3,"lat":-35.1},{"q":"Q1","lon":18.4,"lat":-36.2},{"q":"Q1","lon":21.2,"lat":-36.7},{"q":"Q1","lon":26.3,"lat":-37.1},{"q":"Q1","lon":30.3,"lat":-36.2},{"q":"Q1","lon":33.1,"lat":-34.6},{"q":"Q1","lon":36,"lat":-32.4},{"q":"Q1","lon":37.4,"lat":-29.9},{"q":"Q1","lon":36,"lat":-28.6},{"q":"Q1","lon":32.6,"lat":-28.3},{"q":"Q1","lon":28.6,"lat":-29.1},{"q":"Q1","lon":24.1,"lat":-31},{"q":"Q1","lon":19.5,"lat":-32.9},
{"q":"Q4","lon":17.1,"lat":-35.2},{"q":"Q4","lon":18.4,"lat":-36.3},{"q":"Q4","lon":23.5,"lat":-36.6},{"q":"Q4","lon":28.6,"lat":-35.5},{"q":"Q4","lon":33.1,"lat":-33.6},{"q":"Q4","lon":36.3,"lat":-30.3},{"q":"Q4","lon":36,"lat":-28.4},{"q":"Q4","lon":32.6,"lat":-27.9},{"q":"Q4","lon":28,"lat":-28.4},{"q":"Q4","lon":22.9,"lat":-30.6},{"q":"Q4","lon":18.4,"lat":-33.3}
],
"strata":[
{"q":"Q1","kind":"c3","lon0":22,"lon1":32.5,"lat0":-29.5,"lat1":-42.4},{"q":"Q1","kind":"c3","lon0":62,"lon1":91.8,"lat0":-22.3,"lat1":-32.4},{"q":"Q1","kind":"c1","lon0":61.5,"lon1":118,"lat0":-32.3,"lat1":-42.4},
{"q":"Q2","kind":"c3","lon0":21.9,"lon1":31.9,"lat0":-29.3,"lat1":-42.3},{"q":"Q2","kind":"c3","lon0":62.5,"lon1":92.3,"lat0":-22,"lat1":-32.3},{"q":"Q2","kind":"c2","lon0":17.4,"lon1":62.5,"lat0":-32.5,"lat1":-42.7},{"q":"Q2","kind":"c2","lon0":62.5,"lon1":137.6,"lat0":-32.1,"lat1":-42.4},
{"q":"Q3","kind":"c3","lon0":62.1,"lon1":92.5,"lat0":-22.4,"lat1":-32.6},{"q":"Q3","kind":"c2","lon0":17.4,"lon1":61.6,"lat0":-32.6,"lat1":-42.4},{"q":"Q3","kind":"c2","lon0":61.6,"lon1":137.6,"lat0":-32.6,"lat1":-42.8},
{"q":"Q4","kind":"c3","lon0":22,"lon1":32.9,"lat0":-29.5,"lat1":-42.5},{"q":"Q4","kind":"c3","lon0":62.2,"lon1":92.2,"lat0":-22.2,"lat1":-32.2},{"q":"Q4","kind":"c1","lon0":62.5,"lon1":118,"lat0":-32.2,"lat1":-42.4}
],
"openStratum":[{"lon":31.9,"lat":-29.5},{"lon":21.5,"lat":-29.5},{"lon":21.5,"lat":-42.3}],
"qlabels":[{"q":"Q1","lon":18,"lat":-14.1,"label":"Quart. 1"},{"q":"Q2","lon":18,"lat":-14.1,"label":"Quart. 2"},{"q":"Q3","lon":18,"lat":-14.1,"label":"Quart. 3"},{"q":"Q4","lon":18,"lat":-14.1,"label":"Quart. 4"}],
"slabels":[{"q":"Q1","lon":89.7,"lat":-45.6,"label":"Stratum 4"},{"q":"Q2","lon":39.8,"lat":-45.3,"label":"Stratum 3"},{"q":"Q2","lon":95.2,"lat":-44.2,"label":"Stratum 2"},{"q":"Q3","lon":40.6,"lat":-45.2,"label":"Stratum 3"},{"q":"Q3","lon":97.4,"lat":-45.3,"label":"Stratum 2"},{"q":"Q4","lon":82.9,"lat":-46.2,"label":"Stratum 4"}],
"outer":[{"lon0":-54.75,"lon1":-54.75,"lat0":-0.34,"lat1":-148.3},{"lon0":-54.75,"lon1":360.2,"lat0":-1.81,"lat1":-1.81}],
"legendTicks":[{"lon0":149.6,"lon1":152,"lat0":-15.16,"lat1":-15.16},{"lon0":149.6,"lon1":152,"lat0":-27.55,"lat1":-27.55},{"lon0":149.6,"lon1":152,"lat0":-40.1,"lat1":-40.1},{"lon0":149.6,"lon1":152,"lat0":-52.5,"lat1":-52.5},{"lon0":149.6,"lon1":152,"lat0":-65,"lat1":-65}]
},
"bounds":"flush","spacing":415.5,"resolve":{"scale":{"color":"independent"},"legend":{"color":"independent"}},
"vconcat":[
{"bounds":"flush","spacing":0,"resolve":{"scale":{"color":"independent"},"legend":{"color":"independent"}},"hconcat":[
{"width":4,"height":340,"view":{"stroke":null},"data":{"values":[{"a":1}]},"mark":{"type":"point","opacity":0},"encoding":{}},
{"bounds":"flush","spacing":85,"resolve":{"scale":{"color":"independent"},"legend":{"color":"independent"}},"hconcat":[
{"width":354,"height":340,
"encoding":{"x":{"field":"lon","type":"quantitative","scale":{"domain":[17.3,137.6],"nice":false,"zero":false},"axis":{"values":[20,40,60,80,100,120],"grid":false,"domain":false,"title":"Longitude","labelExpr":"''+datum.value","tickColor":"#777","tickSize":6,"tickWidth":1.2,"labelColor":"#666","labelFontSize":10.5,"labelPadding":9,"titleColor":"#666","titleFontWeight":"normal","titleFontSize":10.5,"titlePadding":16}},"y":{"field":"lat","type":"quantitative","scale":{"domain":[-67.8,-12.4],"nice":false,"zero":false},"axis":{"values":[-20,-30,-40,-50,-60],"grid":false,"domain":false,"title":"Latitude","labelExpr":"''+datum.value","labelAngle":-90,"tickColor":"#777","tickSize":6,"tickWidth":1.2,"labelColor":"#666","labelFontSize":10.5,"labelPadding":10,"titleColor":"#666","titleFontWeight":"normal","titleFontSize":10.5,"titlePadding":18}}},
"layer":[
{"data":{"name":"cells"},"transform":[{"filter":"datum.q=='Q1'"}],"mark":{"type":"rect","width":14.9,"height":30.9,"clip":true},"encoding":{"color":{"field":"v","type":"quantitative","legend":null,"scale":{"domain":[0,0.25,0.5,0.75,1,1.25,1.5,1.75,2],"range":["#00007F","#0000FF","#007FFF","#00FFFF","#7FFF7F","#FFFF00","#FF7F00","#FF0000","#7F0000"]}}}},
{"data":{"name":"land"},"mark":{"type":"line","fill":"#000","stroke":"#000","strokeWidth":0.5,"interpolate":"linear-closed","clip":true},"encoding":{"detail":{"field":"id"},"order":{"value":null}}},
{"data":{"name":"dots"},"mark":{"type":"point","filled":true,"color":"#222","size":3,"opacity":1}},
{"data":{"name":"crozet"},"mark":{"type":"point","shape":"diamond","filled":false,"stroke":"#8fd5dc","strokeWidth":1,"size":40,"opacity":1}},
{"data":{"name":"strata"},"transform":[{"filter":"datum.q=='Q1'"}],"mark":{"type":"rect","filled":false,"strokeWidth":3.2,"clip":true},"encoding":{"x":{"field":"lon0","type":"quantitative"},"x2":{"field":"lon1"},"y":{"field":"lat0","type":"quantitative"},"y2":{"field":"lat1"},"stroke":{"field":"kind","type":"nominal","legend":null,"scale":{"domain":["c1","c2","c3"],"range":["#2f9aa0","#30e0e0","#e2d22c"]}}}},
{"data":{"name":"contours"},"transform":[{"filter":"datum.q=='Q1'"}],"mark":{"type":"line","stroke":"#a84848","strokeWidth":1.5,"interpolate":"cardinal-closed","clip":true},"encoding":{"detail":{"field":"id"},"order":{"value":null}}},
{"data":{"name":"ellipses"},"transform":[{"filter":"datum.q=='Q1'"}],"mark":{"type":"line","stroke":"#cc22cc","strokeWidth":3.5,"interpolate":"cardinal-closed"},"encoding":{"order":{"value":null}}},
{"data":{"name":"qlabels"},"transform":[{"filter":"datum.q=='Q1'"}],"mark":{"type":"text","align":"left","baseline":"middle","color":"#fff","fontWeight":"bold","fontSize":15,"font":"Liberation Sans"},"encoding":{"text":{"field":"label"}}},
{"data":{"name":"slabels"},"transform":[{"filter":"datum.q=='Q1'"}],"mark":{"type":"text","align":"center","baseline":"middle","color":"#45d8e2","fontWeight":"bold","fontSize":8,"font":"DejaVu Sans"},"encoding":{"text":{"field":"label"}}},
{"data":{"name":"outer"},"mark":{"type":"rule","color":"#000","strokeWidth":2},"encoding":{"x":{"field":"lon0","type":"quantitative"},"x2":{"field":"lon1"},"y":{"field":"lat0","type":"quantitative"},"y2":{"field":"lat1"}}}
]},
{"width":354,"height":340,
"encoding":{"x":{"field":"lon","type":"quantitative","scale":{"domain":[17.3,137.6],"nice":false,"zero":false},"axis":{"values":[20,40,60,80,100,120],"grid":false,"domain":false,"title":"Longitude","labelExpr":"''+datum.value","tickColor":"#777","tickSize":6,"tickWidth":1.2,"labelColor":"#666","labelFontSize":10.5,"labelPadding":9,"titleColor":"#666","titleFontWeight":"normal","titleFontSize":10.5,"titlePadding":16}},"y":{"field":"lat","type":"quantitative","scale":{"domain":[-67.8,-12.4],"nice":false,"zero":false},"axis":{"values":[-20,-30,-40,-50,-60],"grid":false,"domain":false,"title":null,"labelExpr":"''+datum.value","labelAngle":-90,"tickColor":"#777","tickSize":6,"tickWidth":1.2,"labelColor":"#666","labelFontSize":10.5,"labelPadding":10}}},
"layer":[
{"data":{"name":"cells"},"transform":[{"filter":"datum.q=='Q2'"}],"mark":{"type":"rect","width":14.9,"height":30.9,"clip":true},"encoding":{"color":{"field":"v","type":"quantitative","scale":{"domain":[0,0.25,0.5,0.75,1,1.25,1.5,1.75,2],"range":["#00007F","#0000FF","#007FFF","#00FFFF","#7FFF7F","#FFFF00","#FF7F00","#FF0000","#7F0000"]},"legend":{"orient":"none","legendX":376,"legendY":-25,"title":["Fishing effort","(10e+6\u00a0 hooks)"],"titleFont":"Liberation Sans","titleFontSize":8,"titleFontWeight":"bold","titleColor":"#222","titleLineHeight":12,"titlePadding":23,"gradientLength":306,"gradientThickness":13,"gradientStrokeColor":"#555","gradientStrokeWidth":0.8,"values":[0,0.5,1,1.5,2],"format":".1f","labelFontSize":11,"labelColor":"#666","labelOffset":14,"labelFont":"Liberation Sans"}}}},
{"data":{"name":"land"},"mark":{"type":"line","fill":"#000","stroke":"#000","strokeWidth":0.5,"interpolate":"linear-closed","clip":true},"encoding":{"detail":{"field":"id"},"order":{"value":null}}},
{"data":{"name":"dots"},"mark":{"type":"point","filled":true,"color":"#222","size":3,"opacity":1}},
{"data":{"name":"crozet"},"mark":{"type":"point","shape":"diamond","filled":false,"stroke":"#8fd5dc","strokeWidth":1,"size":40,"opacity":1}},
{"data":{"name":"strata"},"transform":[{"filter":"datum.q=='Q2'"}],"mark":{"type":"rect","filled":false,"strokeWidth":3.2,"clip":false},"encoding":{"x":{"field":"lon0","type":"quantitative"},"x2":{"field":"lon1"},"y":{"field":"lat0","type":"quantitative"},"y2":{"field":"lat1"},"stroke":{"field":"kind","type":"nominal","legend":null,"scale":{"domain":["c1","c2","c3"],"range":["#2f9aa0","#30e0e0","#e2d22c"]}}}},
{"data":{"name":"contours"},"transform":[{"filter":"datum.q=='Q2'"}],"mark":{"type":"line","stroke":"#a84848","strokeWidth":1.5,"interpolate":"cardinal-closed","clip":true},"encoding":{"detail":{"field":"id"},"order":{"value":null}}},
{"data":{"name":"openContour"},"mark":{"type":"line","stroke":"#a84848","strokeWidth":1.5,"interpolate":"cardinal","clip":true},"encoding":{"order":{"value":null}}},
{"data":{"name":"qlabels"},"transform":[{"filter":"datum.q=='Q2'"}],"mark":{"type":"text","align":"left","baseline":"middle","color":"#fff","fontWeight":"bold","fontSize":15,"font":"Liberation Sans"},"encoding":{"text":{"field":"label"}}},
{"data":{"name":"slabels"},"transform":[{"filter":"datum.q=='Q2'"}],"mark":{"type":"text","align":"center","baseline":"middle","color":"#45d8e2","fontWeight":"bold","fontSize":8,"font":"DejaVu Sans"},"encoding":{"text":{"field":"label"}}},
{"data":{"name":"legendTicks"},"mark":{"type":"rule","color":"#666","strokeWidth":1},"encoding":{"x":{"field":"lon0","type":"quantitative"},"x2":{"field":"lon1"},"y":{"field":"lat0","type":"quantitative"},"y2":{"field":"lat1"}}}
]}
]}
]},
{"bounds":"flush","spacing":90,"resolve":{"scale":{"color":"independent"},"legend":{"color":"independent"}},"hconcat":[
{"width":354,"height":340,
"encoding":{"x":{"field":"lon","type":"quantitative","scale":{"domain":[17.3,137.6],"nice":false,"zero":false},"axis":{"values":[20,40,60,80,100,120],"grid":false,"domain":false,"title":"Longitude","labelExpr":"''+datum.value","tickColor":"#777","tickSize":6,"tickWidth":1.2,"labelColor":"#666","labelFontSize":10.5,"labelPadding":9,"titleColor":"#666","titleFontWeight":"normal","titleFontSize":10.5,"titlePadding":16}},"y":{"field":"lat","type":"quantitative","scale":{"domain":[-67.8,-12.4],"nice":false,"zero":false},"axis":{"values":[-20,-30,-40,-50,-60],"grid":false,"domain":false,"title":"Latitude","labelExpr":"''+datum.value","labelAngle":-90,"tickColor":"#777","tickSize":6,"tickWidth":1.2,"labelColor":"#666","labelFontSize":10.5,"labelPadding":10,"titleColor":"#666","titleFontWeight":"normal","titleFontSize":10.5,"titlePadding":18}}},
"layer":[
{"data":{"name":"cells"},"transform":[{"filter":"datum.q=='Q3'"}],"mark":{"type":"rect","width":14.9,"height":30.9,"clip":true},"encoding":{"color":{"field":"v","type":"quantitative","legend":null,"scale":{"domain":[0,0.25,0.5,0.75,1,1.25,1.5,1.75,2],"range":["#00007F","#0000FF","#007FFF","#00FFFF","#7FFF7F","#FFFF00","#FF7F00","#FF0000","#7F0000"]}}}},
{"data":{"name":"land"},"mark":{"type":"line","fill":"#000","stroke":"#000","strokeWidth":0.5,"interpolate":"linear-closed","clip":true},"encoding":{"detail":{"field":"id"},"order":{"value":null}}},
{"data":{"name":"dots"},"mark":{"type":"point","filled":true,"color":"#222","size":3,"opacity":1}},
{"data":{"name":"crozet"},"mark":{"type":"point","shape":"diamond","filled":false,"stroke":"#8fd5dc","strokeWidth":1,"size":40,"opacity":1}},
{"data":{"name":"strata"},"transform":[{"filter":"datum.q=='Q3'"}],"mark":{"type":"rect","filled":false,"strokeWidth":3.2,"clip":false},"encoding":{"x":{"field":"lon0","type":"quantitative"},"x2":{"field":"lon1"},"y":{"field":"lat0","type":"quantitative"},"y2":{"field":"lat1"},"stroke":{"field":"kind","type":"nominal","legend":null,"scale":{"domain":["c1","c2","c3"],"range":["#2f9aa0","#30e0e0","#e2d22c"]}}}},
{"data":{"name":"openStratum"},"mark":{"type":"line","stroke":"#e2d22c","strokeWidth":3.2},"encoding":{"order":{"value":null}}},
{"data":{"name":"contours"},"transform":[{"filter":"datum.q=='Q3'"}],"mark":{"type":"line","stroke":"#a84848","strokeWidth":1.5,"interpolate":"cardinal-closed","clip":true},"encoding":{"detail":{"field":"id"},"order":{"value":null}}},
{"data":{"name":"qlabels"},"transform":[{"filter":"datum.q=='Q3'"}],"mark":{"type":"text","align":"left","baseline":"middle","color":"#fff","fontWeight":"bold","fontSize":15,"font":"Liberation Sans"},"encoding":{"text":{"field":"label"}}},
{"data":{"name":"slabels"},"transform":[{"filter":"datum.q=='Q3'"}],"mark":{"type":"text","align":"center","baseline":"middle","color":"#45d8e2","fontWeight":"bold","fontSize":8,"font":"DejaVu Sans"},"encoding":{"text":{"field":"label"}}}
]},
{"width":354,"height":340,
"encoding":{"x":{"field":"lon","type":"quantitative","scale":{"domain":[17.3,137.6],"nice":false,"zero":false},"axis":{"values":[20,40,60,80,100,120],"grid":false,"domain":false,"title":"Longitude","labelExpr":"''+datum.value","tickColor":"#777","tickSize":6,"tickWidth":1.2,"labelColor":"#666","labelFontSize":10.5,"labelPadding":9,"titleColor":"#666","titleFontWeight":"normal","titleFontSize":10.5,"titlePadding":16}},"y":{"field":"lat","type":"quantitative","scale":{"domain":[-67.8,-12.4],"nice":false,"zero":false},"axis":{"values":[-20,-30,-40,-50,-60],"grid":false,"domain":false,"title":null,"labelExpr":"''+datum.value","labelAngle":-90,"tickColor":"#777","tickSize":6,"tickWidth":1.2,"labelColor":"#666","labelFontSize":10.5,"labelPadding":10}}},
"layer":[
{"data":{"name":"cells"},"transform":[{"filter":"datum.q=='Q4'"}],"mark":{"type":"rect","width":14.9,"height":30.9,"clip":true},"encoding":{"color":{"field":"v","type":"quantitative","legend":null,"scale":{"domain":[0,0.25,0.5,0.75,1,1.25,1.5,1.75,2],"range":["#00007F","#0000FF","#007FFF","#00FFFF","#7FFF7F","#FFFF00","#FF7F00","#FF0000","#7F0000"]}}}},
{"data":{"name":"land"},"mark":{"type":"line","fill":"#000","stroke":"#000","strokeWidth":0.5,"interpolate":"linear-closed","clip":true},"encoding":{"detail":{"field":"id"},"order":{"value":null}}},
{"data":{"name":"dots"},"mark":{"type":"point","filled":true,"color":"#222","size":3,"opacity":1}},
{"data":{"name":"crozet"},"mark":{"type":"point","shape":"diamond","filled":false,"stroke":"#8fd5dc","strokeWidth":1,"size":40,"opacity":1}},
{"data":{"name":"strata"},"transform":[{"filter":"datum.q=='Q4'"}],"mark":{"type":"rect","filled":false,"strokeWidth":3.2,"clip":false},"encoding":{"x":{"field":"lon0","type":"quantitative"},"x2":{"field":"lon1"},"y":{"field":"lat0","type":"quantitative"},"y2":{"field":"lat1"},"stroke":{"field":"kind","type":"nominal","legend":null,"scale":{"domain":["c1","c2","c3"],"range":["#2f9aa0","#30e0e0","#e2d22c"]}}}},
{"data":{"name":"contours"},"transform":[{"filter":"datum.q=='Q4'"}],"mark":{"type":"line","stroke":"#a84848","strokeWidth":1.5,"interpolate":"cardinal-closed","clip":true},"encoding":{"detail":{"field":"id"},"order":{"value":null}}},
{"data":{"name":"ellipses"},"transform":[{"filter":"datum.q=='Q4'"}],"mark":{"type":"line","stroke":"#cc22cc","strokeWidth":3.5,"interpolate":"cardinal-closed"},"encoding":{"order":{"value":null}}},
{"data":{"name":"qlabels"},"transform":[{"filter":"datum.q=='Q4'"}],"mark":{"type":"text","align":"left","baseline":"middle","color":"#fff","fontWeight":"bold","fontSize":15,"font":"Liberation Sans"},"encoding":{"text":{"field":"label"}}},
{"data":{"name":"slabels"},"transform":[{"filter":"datum.q=='Q4'"}],"mark":{"type":"text","align":"center","baseline":"middle","color":"#45d8e2","fontWeight":"bold","fontSize":8,"font":"DejaVu Sans"},"encoding":{"text":{"field":"label"}}}
]}
]}
]}
